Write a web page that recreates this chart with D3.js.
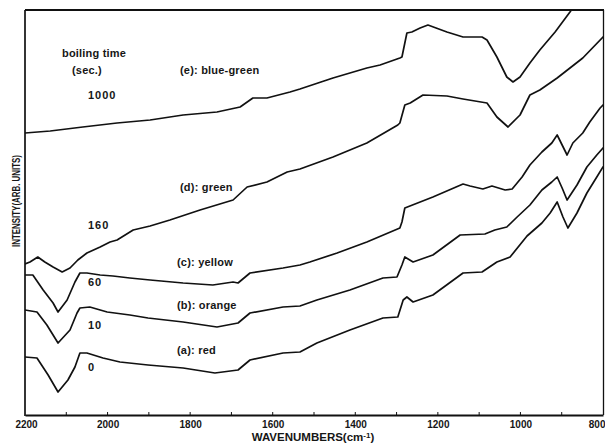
<!DOCTYPE html>
<html><head><meta charset="utf-8">
<script src="https://cdn.jsdelivr.net/npm/d3@7/dist/d3.min.js"></script>
<style>
html,body{margin:0;padding:0;background:#fff;}
svg{display:block;}
text{font-family:"Liberation Sans",Arial,Helvetica,sans-serif;font-weight:bold;fill:#161616;}
</style>
</head><body>
<svg id="chart" width="605" height="446"></svg>
<script>
// ---- data (wavenumber in cm-1, intensity in arbitrary units) ----
const xTickValues = [2200, 2000, 1800, 1600, 1400, 1200, 1000, 800];
const xMinorTickValues = [2100, 2000, 1900, 1800, 1700, 1600, 1500, 1400, 1300, 1200, 1100, 1000, 900];

const seriesNames = ["(a): red", "(b): orange", "(c): yellow", "(d): green", "(e): blue-green"];
const boilingTimes = ["0", "10", "60", "160", "1000"];

const redWn = [2200,2171,2144,2120,2096,2079,2067,2050,2011,1970,1902,1817,1740,1684,1655,1575,1534,1493,1413,1333,1297,1284,1275,1260,1212,1139,1093,1057,1025,984,948,928,911,897,885,863,839,815,800];
const redVal = [5.8,5.7,4.0,2.3,3.5,4.8,6.2,6.2,5.7,5.3,5.0,4.7,4.2,4.5,5.5,6.2,6.3,7.2,8.5,9.7,9.8,11.5,11.8,11.3,12.0,14.2,14.3,15.3,15.8,17.9,19.2,20.2,21.3,19.8,18.7,20.2,22.2,23.8,24.8];

const orangeWn = [2200,2171,2147,2120,2091,2074,2067,2043,2001,1946,1902,1817,1735,1684,1655,1575,1534,1493,1413,1333,1299,1287,1280,1260,1212,1146,1086,1062,1033,1008,977,948,924,911,899,887,863,839,815,800];
const orangeVal = [10.5,10.3,9.0,7.2,8.5,10.2,10.7,10.8,10.3,10.0,9.7,9.3,8.8,9.2,10.2,10.8,10.9,11.5,12.5,13.7,13.8,15.0,15.8,15.3,16.0,18.0,18.1,18.5,18.8,19.8,21.0,22.5,23.3,23.8,22.7,21.5,23.0,24.8,26.0,26.7];

const yellowWn = [2200,2181,2156,2132,2120,2098,2079,2067,2050,2018,1987,1946,1897,1817,1745,1696,1684,1655,1575,1534,1510,1444,1372,1292,1287,1280,1212,1139,1122,1091,1069,1037,1020,996,977,948,924,911,899,887,873,849,832,807,800];
const yellowVal = [14.0,14.0,12.5,11.2,10.3,11.5,13.3,14.2,14.2,14.0,13.9,13.7,13.5,13.2,13.0,13.3,13.2,14.2,14.7,15.0,15.3,16.2,17.3,18.7,19.3,20.7,21.8,23.1,22.9,22.6,22.9,22.5,22.6,23.8,25.0,26.3,27.2,28.0,27.0,26.0,27.2,28.2,29.3,30.7,31.0];

const greenWn = [2200,2188,2169,2152,2132,2110,2091,2072,2050,2018,1994,1977,1938,1897,1849,1776,1696,1662,1614,1565,1534,1454,1372,1297,1292,1280,1267,1236,1178,1139,1081,1057,1030,1001,977,953,911,849,800];
const greenVal = [15.1,15.3,15.8,15.3,14.8,14.3,14.7,15.5,16.2,16.8,17.3,17.5,18.5,18.9,19.5,20.5,21.5,22.8,23.3,24.3,24.6,25.8,27.2,29.0,29.2,31.0,31.2,32.0,31.9,31.6,31.2,29.8,28.8,30.0,32.0,32.5,33.7,35.7,37.8];

const blueGreenWn = [2200,2139,2060,1977,1897,1817,1735,1679,1648,1614,1558,1534,1454,1372,1340,1292,1287,1275,1263,1243,1224,1178,1139,1093,1081,1057,1033,1018,1001,977,953,916,880,860];
const blueGreenVal = [28.2,28.4,28.8,29.2,29.5,30.0,30.3,30.8,31.7,31.7,32.3,32.6,33.7,34.7,35.0,35.7,35.8,38.2,38.3,38.7,39.0,38.3,37.8,37.8,37.5,35.8,33.8,33.3,33.8,35.2,36.5,38.3,40.3,41.5];

const seriesWn = [redWn, orangeWn, yellowWn, greenWn, blueGreenWn];
const seriesVal = [redVal, orangeVal, yellowVal, greenVal, blueGreenVal];

// ---- layout ----
const svg = d3.select("#chart");
const plot = {left: 25, right: 603, top: 10, bottom: 415};
const x = d3.scaleLinear().domain([2200, 800]).range([plot.left, plot.right]);
const y = d3.scaleLinear().domain([0, 40.5]).range([plot.bottom, plot.top]);

svg.append("rect").attr("width", 605).attr("height", 446).attr("fill", "#fff");

svg.append("defs").append("clipPath").attr("id", "plotclip")
  .append("rect").attr("x", plot.left).attr("y", plot.top)
  .attr("width", plot.right - plot.left).attr("height", plot.bottom - plot.top);

// frame
svg.append("line").attr("x1", plot.left).attr("x2", plot.right + 1).attr("y1", plot.top).attr("y2", plot.top)
  .attr("stroke", "#111").attr("stroke-width", 1.8);
svg.append("line").attr("x1", plot.right + 0.5).attr("x2", plot.right + 0.5).attr("y1", plot.top).attr("y2", plot.bottom)
  .attr("stroke", "#111").attr("stroke-width", 1.3);
svg.append("line").attr("x1", plot.left).attr("x2", plot.left).attr("y1", plot.top).attr("y2", plot.bottom + 1)
  .attr("stroke", "#111").attr("stroke-width", 1.7);

// bottom axis
const xAxis = d3.axisBottom(x).tickValues(xTickValues).tickSize(0).tickPadding(6).tickFormat(d3.format("d"));
const gx = svg.append("g").attr("transform", `translate(0,${plot.bottom})`).call(xAxis);
gx.select(".domain").attr("stroke", "#111").attr("stroke-width", 2.2);
gx.selectAll(".tick text").attr("font-size", 10).attr("font-family", "Liberation Sans, Arial, sans-serif")
  .attr("font-weight", "bold").attr("fill", "#161616");
gx.selectAll(".tick text").filter(d => d === 800).attr("text-anchor", "end").attr("dx", 2);
gx.selectAll(".tick text").filter(d => d === 2200).attr("dx", 1);

// minor inward ticks
svg.append("g").selectAll("line").data(xMinorTickValues).join("line")
  .attr("x1", d => x(d)).attr("x2", d => x(d))
  .attr("y1", plot.bottom).attr("y2", plot.bottom - 3)
  .attr("stroke", "#111").attr("stroke-width", 1);

// axis titles
const xt = svg.append("text").attr("x", 313).attr("y", 441).attr("text-anchor", "middle").attr("font-size", 11.5);
xt.append("tspan").text("WAVENUMBERS(cm");
xt.append("tspan").attr("font-size", 8).attr("dy", -3).text("-1");
xt.append("tspan").attr("dy", 3).text(")");

svg.append("text").attr("transform", "translate(20,201) rotate(-90)")
  .attr("text-anchor", "middle").attr("font-size", 10)
  .attr("textLength", 92).attr("lengthAdjust", "spacingAndGlyphs")
  .text("INTENSITY(ARB. UNITS)");

// curves
const line = d3.line().x(d => x(d[0])).y(d => y(d[1]));
const curves = svg.append("g").attr("clip-path", "url(#plotclip)");
seriesWn.forEach((wn, i) => {
  const pts = wn.map((w, j) => [w, seriesVal[i][j]]);
  curves.append("path").datum(pts).attr("d", line)
    .attr("fill", "none").attr("stroke", "#111").attr("stroke-width", 1.7)
    .attr("stroke-linejoin", "round").attr("stroke-linecap", "round");
});

// annotations (pixel layout)
const nameLabelPos = [[177, 354], [177, 309], [177, 266], [180, 191], [180, 74]];
const timeLabelPos = [[88, 371], [88, 329], [88, 286], [88, 229], [88, 99]];
const ann = svg.append("g").attr("font-size", 11).attr("letter-spacing", 0.2);
seriesNames.forEach((s, i) => {
  ann.append("text").attr("x", nameLabelPos[i][0]).attr("y", nameLabelPos[i][1]).text(s);
  ann.append("text").attr("x", timeLabelPos[i][0]).attr("y", timeLabelPos[i][1]).attr("letter-spacing", 1).text(boilingTimes[i]);
});
ann.append("text").attr("x", 62).attr("y", 57).text("boiling time");
ann.append("text").attr("x", 72).attr("y", 74).text("(sec.)");
</script>
</body></html>
